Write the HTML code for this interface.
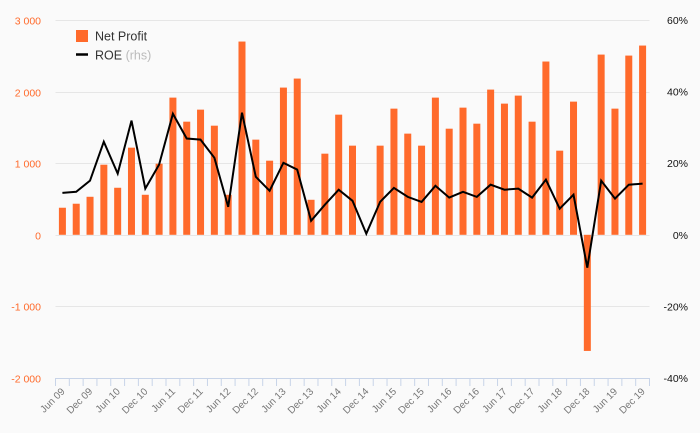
<!DOCTYPE html>
<html><head><meta charset="utf-8"><style>
html,body{margin:0;padding:0;background:#fafafa;}
svg{display:block;font-family:"Liberation Sans",sans-serif;}
</style></head><body>
<svg id="chart" width="700" height="433" viewBox="0 0 700 433" xmlns="http://www.w3.org/2000/svg">
<rect width="700" height="433" fill="#fafafa"/>
<g id="grid"></g><g id="bars"></g><g id="line"></g><g id="axes"></g>
<g>
<rect x="76" y="30" width="12" height="12" fill="#ff6a2b"/>
<text x="95" y="40.5" font-size="12.5" fill="#333">Net Profit</text>
<line x1="76" y1="54.5" x2="88" y2="54.5" stroke="#000" stroke-width="2.5"/>
<text x="95" y="59.5" font-size="12.5" fill="#333">ROE <tspan fill="#bbb">(rhs)</tspan></text>
</g>
</svg>
<script>
const profit=[378,434,531,979,657,1217,559,993,1916,1580,1748,1524,559,2699,1329,1035,2056,2182,489,1133,1678,1245,0,1245,1762,1413,1245,1916,1482,1776,1552,2028,1832,1944,1580,2420,1175,1860,-1622,2517,1762,2503,2643];
const roe=[11.7,12.0,15.1,26.0,17.1,31.9,12.9,19.6,33.8,26.9,26.6,21.5,7.8,34.1,16.2,12.3,20.1,18.2,3.9,8.4,12.6,9.5,0.3,9.2,13.1,10.6,9.2,13.7,10.4,12.0,10.6,14.0,12.6,12.9,10.4,15.4,7.3,11.2,-9.2,15.1,10.1,14.0,14.3];
const leftTicks=[3000,2000,1000,0,-1000,-2000];
const leftTickLabels=["3 000","2 000","1 000","0","-1 000","-2 000"];
const rightTickLabels=["60%","40%","20%","0%","-20%","-40%"];
const rightTicks=[60,40,20,0,-20,-40];
const xLabels=["Jun 09","Dec 09","Jun 10","Dec 10","Jun 11","Dec 11","Jun 12","Dec 12","Jun 13","Dec 13","Jun 14","Dec 14","Jun 15","Dec 15","Jun 16","Dec 16","Jun 17","Dec 17","Jun 18","Dec 18","Jun 19","Dec 19"];

const NS="http://www.w3.org/2000/svg";
const x0=55.5,x1=649.5,yTop=20,yBot=378;
const n=profit.length,band=(x1-x0)/n;
const yL=v=>yTop+(3000-v)/5000*(yBot-yTop);
const yR=v=>yTop+(60-v)/100*(yBot-yTop);
const xC=i=>x0+band*(i+0.5);
function mk(tag,attrs,parent){const e=document.createElementNS(NS,tag);for(const k in attrs)e.setAttribute(k,attrs[k]);document.getElementById(parent).appendChild(e);return e;}

leftTicks.forEach((v,i)=>{
  const y=Math.round(yL(v))+0.5;
  if(v!==-2000){const g=mk('line',{x1:x0,x2:x1,y1:y,y2:y,stroke:'#e6e6e6','stroke-width':1},'grid');
  
  }
  const t=mk('text',{x:41,y:y+4,'text-anchor':'end','font-size':10.5,fill:'#ff6a2b'},'axes');
  t.textContent=leftTickLabels[i];
  
  
});
rightTicks.forEach((v,i)=>{
  const y=yR(v);
  const t=mk('text',{x:688,y:y+4,'text-anchor':'end','font-size':10.5,fill:'#111'},'axes');
  t.textContent=rightTickLabels[i];
  
  
});
profit.forEach((v,i)=>{
  const y0=yL(0),y=yL(v);
  const r=mk('rect',{x:xC(i)-3.5,y:Math.min(y,y0),width:7,height:Math.abs(y0-y),fill:'#ff6a2b'},'bars');
  
  
});
const pts=roe.map((v,i)=>xC(i).toFixed(1)+','+yR(v).toFixed(1)).join(' ');
const pl=mk('polyline',{points:pts,fill:'none',stroke:'#000','stroke-width':2,'stroke-linejoin':'miter'},'line');


const ax=mk('line',{x1:x0,x2:x1,y1:yBot+0.5,y2:yBot+0.5,stroke:'#c8d4e8','stroke-width':1},'axes');


for(let i=0;i<=n;i++){
  const x=x0+band*i;
  const tk=mk('line',{x1:x,x2:x,y1:yBot,y2:yBot+8,stroke:'#c8d4e8','stroke-width':1},'axes');
  
  
}
xLabels.forEach((s,j)=>{
  const x=xC(j*2)+3,y=yBot+14;
  const t=mk('text',{x:x,y:y,'text-anchor':'end','font-size':10,fill:'#777',transform:`rotate(-45 ${x} ${y})`},'axes');
  t.textContent=s;
  
  
});
</script>
</body></html>
